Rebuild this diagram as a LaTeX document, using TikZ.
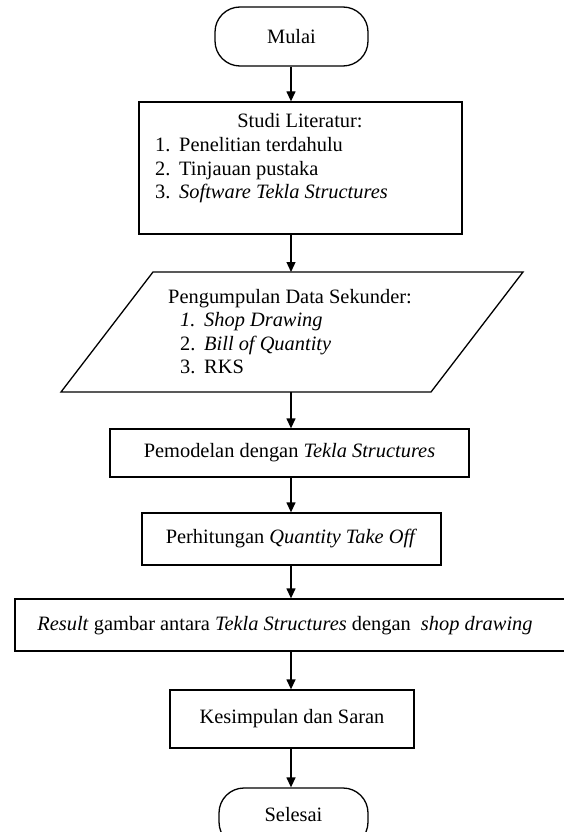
\documentclass[tikz,border=0pt]{standalone}
\usepackage{fontspec}
\setmainfont{Liberation Serif}
\usetikzlibrary{arrows.meta}

\newcommand{\itm}[1]{\makebox[24pt][l]{#1}}

\begin{document}
\begin{tikzpicture}[x=1pt,y=-1pt,
    every node/.style={font=\fontsize{20.4}{23.5}\selectfont,inner sep=0pt},
    box/.style={draw,line width=1.3pt},
    flow/.style={-{Triangle[length=10pt,width=9pt]},line width=1.3pt}]
  \useasboundingbox (0,0) rectangle (563,832);
  \coordinate (spine) at (291,0);
  % Start
  \node[box,rounded corners=25pt,minimum width=153pt,minimum height=59pt] (mulai) at (291.5,36.5) {Mulai};
  % Studi literatur
  \node[box,minimum width=323pt,minimum height=132pt] (studi) at (300.5,168) {};
  \node[anchor=base] (studihead) at (300,128) {Studi Literatur:};
  \foreach \i/\t in {1/Penelitian terdahulu,2/Tinjauan pustaka,3/\textit{Software Tekla Structures}} {
    \node[anchor=base west] (studi\i) at (155,{128+23.5*\i}) {\itm{\i.}\t};
  }
  % Data sekunder (parallelogram)
  \draw[line width=1.3pt] (61,392) -- (153,272) -- (523,272) -- (431,392) -- cycle;
  \coordinate (datatop) at (291,272);
  \coordinate (databot) at (291,392);
  \node[anchor=base west] (datahead) at (168,303) {Pengumpulan Data Sekunder:};
  \node[anchor=base west] (data1) at (180,326.5) {\itm{\textit{1.}}\textit{Shop Drawing}};
  \node[anchor=base west] (data2) at (180,350) {\itm{2.}\textit{Bill of Quantity}};
  \node[anchor=base west] (data3) at (180,373.5) {\itm{3.}RKS};
  % Process steps
  \node[box,minimum width=359pt,minimum height=48pt] (pemodelan) at (289.5,453) {Pemodelan dengan \textit{Tekla Structures}};
  \node[box,minimum width=299pt,minimum height=52pt] (hitung) at (291.5,539) {Perhitungan \textit{Quantity Take Off}};
  \node[box,minimum width=570pt,minimum height=52pt] (result) at (300,625) {};
  \node (resulttxt) at (285,626) {\textit{Result} gambar antara \textit{Tekla Structures} dengan\ \ \textit{shop drawing}};
  \node[box,minimum width=244pt,minimum height=58pt] (simpul) at (292,719) {Kesimpulan dan Saran};
  % End
  \node[box,rounded corners=25pt,minimum width=149pt,minimum height=59pt] (selesai) at (293.5,817.5) {};
  \node (selesaitxt) at (293.5,815) {Selesai};
  % Arrows
  \draw[flow] (mulai.south -| spine) -- (studi.north -| spine);
  \draw[flow] (studi.south -| spine) -- (datatop);
  \draw[flow] (databot) -- (pemodelan.north -| spine);
  \foreach \a/\b in {pemodelan/hitung,hitung/result,result/simpul,simpul/selesai} {
    \draw[flow] (\a.south -| spine) -- (\b.north -| spine);
  }
\end{tikzpicture}
\end{document}
